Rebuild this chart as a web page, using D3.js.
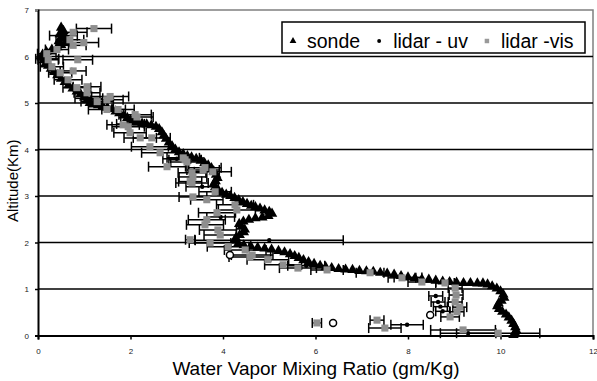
<!DOCTYPE html>
<html>
<head>
<meta charset="utf-8">
<script src="https://cdn.jsdelivr.net/npm/d3@7"></script>
<style>
  body { margin: 0; background: #fff; }
  text { font-family: "Liberation Sans", Arial, sans-serif; }
</style>
</head>
<body>
<div id="chart"></div>
<script>
/* Water vapor mixing ratio profiles: sonde vs lidar */

const xTicks = [0, 2, 4, 6, 8, 10, 12];
const yTicks = [0, 1, 2, 3, 4, 5, 6, 7];
const seriesNames = ["sonde", "lidar - uv", "lidar -vis"];

// sonde profile (gm/Kg, km)
const sondeRatio = [0.50,0.55,0.47,0.58,0.52,0.45,0.60,0.50,0.42,0.30,0.18,0.10,0.08,0.12,0.17,0.22,0.28,0.35,0.42,0.50,
  0.58,0.66,0.75,0.84,0.92,1.00,1.06,1.12,1.20,1.30,1.40,1.50,1.60,1.68,1.76,1.85,1.93,2.00,2.08,2.16,
  2.25,2.35,2.45,2.55,2.62,2.68,2.72,2.77,2.83,2.90,2.97,3.05,3.14,3.23,3.32,3.42,3.52,3.60,3.68,3.75,
  3.80,3.85,3.88,3.84,3.80,3.83,3.90,3.98,4.07,4.16,4.25,4.34,4.43,4.52,4.61,4.70,4.80,4.90,5.00,5.06,
  4.98,4.85,4.70,4.56,4.44,4.35,4.40,4.47,4.45,4.36,4.28,4.25,4.33,4.45,4.60,4.75,4.90,5.05,5.20,5.33,
  5.45,5.55,5.64,5.74,5.85,5.97,6.10,6.22,6.35,6.50,6.65,6.80,6.95,7.10,7.25,7.40,7.55,7.70,7.85,8.00,
  8.15,8.30,8.45,8.60,8.75,8.90,9.05,9.20,9.35,9.50,9.62,9.72,9.82,9.92,10.00,10.06,10.08,10.02,9.96,9.93,
  9.97,10.04,10.12,10.18,10.24,10.28,10.32,10.34,10.32,10.28];
const sondeAlt = [6.62,6.55,6.48,6.44,6.38,6.33,6.30,6.25,6.20,6.15,6.10,6.04,5.98,5.92,5.86,5.80,5.74,5.67,5.60,5.52,
  5.45,5.38,5.31,5.25,5.19,5.12,5.06,5.00,4.97,4.95,4.93,4.90,4.87,4.82,4.78,4.73,4.68,4.64,4.61,4.58,
  4.56,4.54,4.52,4.49,4.44,4.37,4.30,4.23,4.15,4.07,4.00,3.94,3.90,3.86,3.83,3.80,3.76,3.71,3.66,3.60,
  3.53,3.46,3.39,3.32,3.26,3.19,3.12,3.07,3.03,3.00,2.96,2.91,2.87,2.83,2.79,2.76,2.73,2.69,2.66,2.62,
  2.57,2.54,2.52,2.49,2.45,2.40,2.34,2.28,2.22,2.16,2.10,2.04,1.98,1.94,1.92,1.89,1.87,1.85,1.82,1.79,
  1.75,1.71,1.67,1.62,1.58,1.54,1.50,1.47,1.45,1.43,1.42,1.41,1.39,1.38,1.37,1.35,1.33,1.31,1.28,1.25,
  1.23,1.21,1.20,1.18,1.16,1.15,1.14,1.13,1.13,1.12,1.12,1.10,1.06,1.01,0.95,0.88,0.81,0.75,0.69,0.63,
  0.57,0.51,0.45,0.39,0.32,0.25,0.18,0.11,0.05,0.01];

// lidar - uv
const uvRatio = [0.55,0.20,1.10,2.00,3.00,3.55,3.95,5.00,5.80,8.00,8.60,8.65,8.70,8.75,7.98,9.30];
const uvAlt   = [6.45,5.95,5.10,4.55,3.80,3.20,2.55,2.05,1.50,1.25,0.85,0.72,0.62,0.52,0.23,0.05];
const uvErr   = [0.30,0.25,0.30,0.30,0.30,0.35,0.30,1.60,0.40,0.30,0.15,0.15,0.15,0.15,0.35,0.60];

// hollow uv returns
const ringRatio = [6.38, 4.15, 8.48];
const ringAlt   = [0.27, 1.73, 0.44];

// lidar -vis
const visRatio = [1.21,0.76,0.69,0.99,0.76,0.41,0.19,0.22,0.86,0.30,0.48,0.76,0.65,0.84,1.06,1.06,1.28,1.49,1.49,1.56,
  1.73,1.84,1.95,2.14,1.99,2.21,2.46,2.42,2.64,2.79,3.18,3.29,3.33,3.35,2.10,3.14,3.22,3.61,3.78,3.57,
  3.35,3.33,3.83,3.65,4.26,4.30,3.87,3.65,3.61,3.89,3.94,3.29,3.72,4.11,4.48,4.58,4.97,4.63,5.30,5.62,
  6.25,7.18,7.87,8.30,8.80,9.02,9.04,9.02,9.12,9.06,8.91,6.03,7.33,7.50,9.19,9.95];
const visAlt = [6.60,6.52,6.36,6.30,6.24,6.15,6.06,5.93,5.93,5.78,5.65,5.69,5.50,5.33,5.35,5.22,5.03,5.07,4.86,5.14,
  4.86,4.53,4.49,4.70,4.36,4.25,4.25,4.06,3.93,3.63,3.78,3.31,3.50,2.98,4.75,3.82,3.73,3.61,3.52,3.56,
  3.41,3.28,3.09,2.92,2.81,2.70,2.64,2.49,2.38,2.27,2.16,2.06,1.99,1.91,1.84,1.69,1.63,1.73,1.52,1.45,
  1.41,1.35,1.24,1.15,1.13,1.02,0.87,0.72,0.61,0.51,0.40,0.27,0.33,0.16,0.12,0.05];
const visErr = [0.38,0.30,0.30,0.32,0.28,0.25,0.20,0.22,0.32,0.25,0.25,0.28,0.30,0.30,0.30,0.28,0.35,0.35,0.40,0.40,
  0.35,0.35,0.35,0.35,0.35,0.35,0.40,0.40,0.40,0.40,0.35,0.25,0.30,0.30,0.35,0.35,0.35,0.35,0.40,0.35,
  0.30,0.35,0.35,0.35,0.40,0.40,0.40,0.40,0.40,0.40,0.35,0.10,0.45,0.45,0.45,0.45,0.45,0.45,0.40,0.40,
  0.35,0.30,0.30,0.30,0.20,0.15,0.15,0.15,0.15,0.15,0.20,0.10,0.15,0.35,0.70,0.90];

const sonde = sondeRatio.map((v, i) => ({x: v, y: sondeAlt[i]}));
const uv = uvRatio.map((v, i) => ({x: v, y: uvAlt[i], e: uvErr[i]}));
const rings = ringRatio.map((v, i) => ({x: v, y: ringAlt[i]}));
const vis = visRatio.map((v, i) => ({x: v, y: visAlt[i], e: visErr[i]}));

const width = 597,
      height = 381,
      margin = ({ top: 10, right: 4, bottom: 45.5, left: 38 });

let svg = d3.select("#chart")
    .append("svg")
    .attr("width", width)
    .attr("height", height);

let x = d3.scaleLinear()
    .domain([0, 12])
    .range([margin.left, width - margin.right]);

let y = d3.scaleLinear()
    .domain([0, 7])
    .range([height - margin.bottom, margin.top]);

// plot frame (grey top/right)
svg.append("path")
    .attr("d", `M${x(0)},${y(7)}H${x(12)}V${y(0)}`)
    .attr("fill", "none")
    .attr("stroke", "#808080")
    .attr("stroke-width", 1.5);

// gridlines
svg.append("g")
    .selectAll("line")
    .data(yTicks.filter(d => d > 0 && d < 7))
    .join("line")
    .attr("x1", x(0))
    .attr("x2", x(12))
    .attr("y1", d => y(d))
    .attr("y2", d => y(d))
    .attr("stroke", "#000")
    .attr("stroke-width", 1.6);

let xAxis = svg.append("g")
    .attr("transform", `translate(0,${y(0)})`)
    .call(d3.axisBottom(x).tickValues(xTicks).tickFormat(d3.format("d")).tickSize(4).tickPadding(9));

let yAxis = svg.append("g")
    .attr("transform", `translate(${x(0)},0)`)
    .call(d3.axisLeft(y).tickValues(yTicks).tickFormat(d3.format("d")).tickSize(3).tickPadding(6));

[xAxis, yAxis].forEach(g => {
    g.select(".domain").attr("stroke", "#000").attr("stroke-width", 2);
    g.selectAll(".tick line").attr("stroke", "#000").attr("stroke-width", 1.5);
    g.selectAll(".tick text")
        .attr("font-family", "Liberation Sans, Arial, sans-serif")
        .attr("font-size", 8)
        .attr("fill", "#222");
});
yAxis.select(".tick:last-of-type line").attr("stroke", "#808080");

// axis titles
svg.append("text")
    .attr("x", 316)
    .attr("y", 375)
    .attr("text-anchor", "middle")
    .attr("font-size", 19)
    .text("Water Vapor Mixing Ratio (gm/Kg)");

svg.append("text")
    .attr("transform", `translate(18,${(y(0) + y(7)) / 2 + 8}) rotate(-90)`)
    .attr("text-anchor", "middle")
    .attr("font-size", 15)
    .text("Altitude(Km)");

let triangle = d3.symbol().type(d3.symbolTriangle).size(48);
let square = d3.symbol().type(d3.symbolSquare).size(50);

// sonde triangles
svg.append("g")
    .selectAll("path")
    .data(sonde)
    .join("path")
    .attr("d", triangle)
    .attr("transform", d => `translate(${x(d.x)},${y(d.y)})`)
    .attr("fill", "#000");

// error bars for both lidar channels
let bars = svg.append("g")
    .attr("stroke", "#000")
    .attr("stroke-width", 1.5)
    .selectAll("g")
    .data(vis.concat(uv).filter(d => d.e > 0))
    .join("g");

bars.append("line")
    .attr("x1", d => x(d.x - d.e))
    .attr("x2", d => x(d.x + d.e))
    .attr("y1", d => y(d.y))
    .attr("y2", d => y(d.y));

bars.append("line")
    .attr("x1", d => x(d.x - d.e))
    .attr("x2", d => x(d.x - d.e))
    .attr("y1", d => y(d.y) - 5)
    .attr("y2", d => y(d.y) + 5);

bars.append("line")
    .attr("x1", d => x(d.x + d.e))
    .attr("x2", d => x(d.x + d.e))
    .attr("y1", d => y(d.y) - 5)
    .attr("y2", d => y(d.y) + 5);

// lidar - uv dots
svg.append("g")
    .selectAll("circle")
    .data(uv)
    .join("circle")
    .attr("cx", d => x(d.x))
    .attr("cy", d => y(d.y))
    .attr("r", 2.2)
    .attr("fill", "#000");

svg.append("g")
    .selectAll("circle")
    .data(rings)
    .join("circle")
    .attr("cx", d => x(d.x))
    .attr("cy", d => y(d.y))
    .attr("r", 3.5)
    .attr("fill", "#fff")
    .attr("stroke", "#000")
    .attr("stroke-width", 1.5);

// lidar -vis squares
svg.append("g")
    .selectAll("path")
    .data(vis)
    .join("path")
    .attr("d", square)
    .attr("transform", d => `translate(${x(d.x)},${y(d.y)})`)
    .attr("fill", "#8e8e8e");

// legend
let legend = svg.append("g").attr("transform", "translate(282,22)");

legend.append("rect")
    .attr("width", 303)
    .attr("height", 31)
    .attr("fill", "#fff")
    .attr("stroke", "#000")
    .attr("stroke-width", 1.5);

let markers = [
    d3.symbol().type(d3.symbolTriangle).size(20)(),
    d3.symbol().type(d3.symbolCircle).size(12)(),
    d3.symbol().type(d3.symbolSquare).size(20)()
];
let markColors = ["#000", "#000", "#999"];
let cursor = 11;
seriesNames.forEach((name, i) => {
    legend.append("path")
        .attr("d", markers[i])
        .attr("transform", `translate(${cursor},19)`)
        .attr("fill", markColors[i]);
    let t = legend.append("text")
        .attr("x", cursor + 14)
        .attr("y", 26)
        .attr("font-size", 19.5)
        .text(name);
    cursor += 14 + t.node().getComputedTextLength() + 19;
});
</script>
</body>
</html>
